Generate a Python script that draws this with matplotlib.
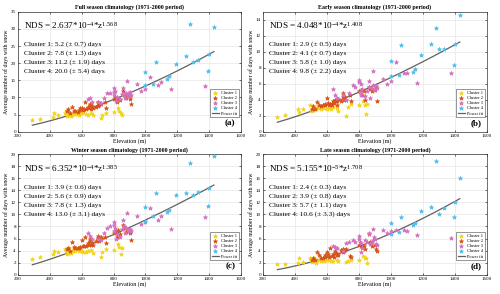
import numpy as np
import matplotlib
matplotlib.use("Agg")
import matplotlib.pyplot as plt

plt.rcParams['font.family'] = ['Liberation Serif', 'DejaVu Serif']
plt.rcParams['mathtext.fontset'] = 'custom'
plt.rcParams['mathtext.rm'] = 'Liberation Serif'
plt.rcParams['mathtext.it'] = 'Liberation Serif:italic'

# elevations of the stations in each cluster (m)
elev_c1 = [290, 340, 420, 425, 450, 495, 500, 505, 510, 515, 520, 530, 540, 550, 560, 565, 570,
           580, 590, 600, 610, 625, 640, 660, 670, 720, 730, 750, 800, 825, 835, 845, 850]
elev_c2 = [505, 515, 525, 540, 550, 560, 575, 585, 590, 600, 605, 615, 620, 630, 640, 645, 650,
           655, 660, 665, 670, 690, 700, 700, 705, 710, 720, 745, 750, 800, 810, 820, 830, 840,
           860, 870, 880, 900, 905, 910]
elev_c3 = [640, 650, 665, 700, 720, 740, 760, 775, 800, 800, 805, 810, 815, 820, 840, 850, 860,
           865, 870, 880, 885, 890, 895, 900, 905, 910, 950, 975, 1000, 1030, 1080, 1100, 1160, 1375]
elev_c4 = [1000, 1000, 1050, 1064, 1137, 1150, 1190, 1253, 1280, 1300, 1332, 1395, 1400, 1430]

# full season
full_c1 = [3.5, 3.8, 4.4, 5.5, 4.8, 5.5, 6.0, 4.7, 5.3, 4.9, 5.8, 4.6, 5.0, 5.6, 5.1, 5.8, 5.3,
           5.0, 5.6, 5.4, 5.8, 5.2, 5.0, 5.6, 4.9, 4.0, 4.8, 5.5, 5.7, 6.8, 6.0, 5.5, 4.9]
full_c2 = [5.9, 6.6, 5.5, 7.2, 6.0, 6.1, 5.8, 6.4, 6.9, 7.0, 6.2, 6.7, 8.8, 6.7, 7.2, 6.8, 7.8,
           8.0, 6.7, 7.4, 6.9, 7.3, 8.3, 7.6, 8.6, 7.9, 8.2, 8.8, 6.9, 9.5, 10.0, 8.6, 9.6, 9.2,
           12.0, 10.8, 9.8, 10.4, 9.4, 8.0]
full_c3 = [9.5, 9.8, 8.7, 8.8, 8.5, 9.7, 11.2, 11.3, 12.7, 11.6, 10.8, 11.9, 8.9, 10.0, 9.4, 11.0,
           12.8, 10.6, 9.9, 11.2, 14.8, 10.5, 11.4, 11.6, 10.3, 10.8, 13.9, 11.9, 12.5, 15.9, 13.6,
           14.4, 12.4, 13.2]
full_c4 = [17.3, 13.5, 14.0, 20.3, 15.4, 16.2, 19.9, 22.2, 31.3, 20.2, 21.0, 17.6, 22.7, 30.5]

# early season
early_c1 = [1.9, 2.1, 2.8, 2.5, 2.8, 3.3, 2.7, 2.6, 3.0, 2.7, 2.9, 2.8, 3.1, 3.0, 3.2, 2.9, 3.1,
            3.0, 3.3, 2.9, 3.0, 2.8, 3.1, 3.0, 2.6, 2.0, 3.1, 3.5, 3.3, 3.8, 3.3, 2.2, 3.5]
early_c2 = [2.9, 3.2, 2.8, 3.7, 3.3, 3.2, 3.3, 3.5, 3.4, 4.2, 3.6, 3.3, 3.5, 3.3, 3.9, 3.6, 4.0,
            3.9, 3.4, 3.8, 4.1, 3.9, 4.8, 4.3, 4.0, 4.4, 4.0, 4.6, 3.8, 5.1, 5.2, 4.6, 5.1, 4.0,
            5.6, 5.3, 5.1, 5.2, 5.6, 3.8]
early_c3 = [5.3, 4.6, 4.2, 4.6, 4.0, 4.9, 5.8, 5.6, 6.5, 6.2, 5.0, 6.0, 4.6, 5.3, 4.5, 5.1, 6.3,
            5.6, 4.2, 5.5, 7.6, 5.8, 5.2, 5.4, 5.9, 5.5, 6.6, 6.0, 6.4, 8.7, 7.4, 7.3, 6.1, 7.3]
early_c4 = [8.9, 7.0, 7.1, 10.8, 7.5, 7.9, 9.6, 11.0, 13.0, 10.3, 10.3, 8.4, 11.0, 14.6]

# winter season
winter_c1 = [2.6, 2.9, 3.4, 3.9, 3.7, 4.3, 4.0, 3.5, 4.2, 3.6, 4.4, 3.6, 3.9, 4.2, 4.0, 4.5, 4.2,
             3.9, 4.4, 3.9, 3.8, 3.7, 3.9, 4.1, 3.6, 2.9, 3.8, 4.3, 4.1, 5.1, 4.6, 3.5, 4.4]
winter_c2 = [4.3, 4.4, 4.0, 5.4, 4.6, 4.4, 4.5, 4.5, 4.6, 5.7, 4.7, 4.8, 6.3, 4.8, 5.2, 4.9, 5.6,
             5.9, 4.9, 5.3, 5.0, 5.6, 6.4, 5.9, 6.1, 5.6, 6.2, 6.2, 5.3, 6.9, 7.2, 6.3, 7.4, 6.8,
             8.2, 7.8, 7.1, 7.3, 7.0, 5.8]
winter_c3 = [7.0, 6.5, 6.0, 6.0, 5.8, 7.0, 7.8, 8.0, 8.7, 8.3, 7.3, 7.8, 6.0, 6.8, 6.2, 7.6, 9.1,
             8.1, 7.0, 7.8, 10.3, 7.6, 7.2, 7.6, 7.4, 7.3, 9.7, 8.4, 8.7, 11.1, 9.0, 9.8, 7.6, 9.5]
winter_c4 = [11.3, 8.9, 9.7, 13.5, 10.4, 10.8, 13.3, 13.5, 18.6, 13.2, 13.7, 11.4, 14.4, 19.7]

# late season
late_c1 = [1.7, 1.7, 2.0, 2.7, 2.1, 2.7, 2.4, 2.1, 2.6, 2.3, 2.7, 2.0, 2.4, 2.5, 2.2, 2.8, 2.4,
           2.3, 2.6, 2.4, 2.5, 2.3, 2.2, 2.5, 2.3, 2.1, 2.2, 2.5, 2.4, 3.1, 2.7, 2.7, 2.0]
late_c2 = [2.4, 2.7, 2.5, 3.8, 3.3, 2.8, 2.7, 3.0, 3.3, 3.7, 3.5, 2.9, 4.4, 3.1, 3.4, 3.0, 4.0,
           3.6, 3.2, 3.5, 3.3, 4.1, 4.2, 3.8, 3.9, 4.1, 4.2, 3.1, 3.0, 5.0, 4.8, 4.6, 4.7, 4.3,
           6.8, 5.4, 4.8, 5.0, 4.2, 3.9]
late_c3 = [4.7, 4.6, 4.4, 4.0, 5.3, 5.5, 5.8, 5.4, 6.5, 6.0, 5.5, 5.3, 3.8, 4.4, 5.8, 5.4, 6.9,
           6.7, 5.1, 5.4, 7.6, 5.8, 6.3, 5.9, 5.1, 5.0, 7.4, 6.9, 7.2, 7.4, 7.4, 7.3, 6.6, 6.1]
late_c4 = [8.6, 6.8, 7.1, 9.5, 8.3, 8.6, 10.6, 11.3, 18.9, 10.1, 11.1, 9.6, 12.0, 16.1]

titles = ["Full season climatology (1971-2000 period)",
          "Early season climatology (1971-2000 period)",
          "Winter season climatology (1971-2000 period)",
          "Late season climatology (1971-2000 period)"]
fit_a = [2.637e-4, 4.048e-4, 6.352e-4, 5.155e-5]
fit_b = [1.568, 1.408, 1.385, 1.708]
eq_text = [r"NDS = 2.637*10$^{-4}$*z$^{1.568}$",
           r"NDS = 4.048*10$^{-4}$*z$^{1.408}$",
           r"NDS = 6.352*10$^{-4}$*z$^{1.385}$",
           r"NDS = 5.155*10$^{-5}$*z$^{1.708}$"]
cluster_text = [["5.2 (± 0.7)", "7.8 (± 1.3)", "11.2 (± 1.9)", "20.0 (± 5.4)"],
                ["2.9 (± 0.5)", "4.1 (± 0.7)", "5.8 (± 1.0)", "9.8 (± 2.2)"],
                ["3.9 (± 0.6)", "5.6 (± 0.9)", "7.8 (± 1.3)", "13.0 (± 3.1)"],
                ["2.4 (± 0.3)", "3.9 (± 0.8)", "5.7 (± 1.1)", "10.6 (± 3.3)"]]
ymax = [35, 15, 20, 20]
ystep = [5, 2, 2, 2]
panel_labels = ["(a)", "(b)", "(c)", "(d)"]
seasons = [[full_c1, full_c2, full_c3, full_c4],
           [early_c1, early_c2, early_c3, early_c4],
           [winter_c1, winter_c2, winter_c3, winter_c4],
           [late_c1, late_c2, late_c3, late_c4]]
elevs = [elev_c1, elev_c2, elev_c3, elev_c4]
colors = ['#F2D31B', '#D95319', '#D470C0', '#4DBEEE']

fig = plt.figure(figsize=(5.0, 2.94), dpi=100)
boxes = [[0.036, 0.552, 0.446, 0.408],
         [0.526, 0.552, 0.448, 0.408],
         [0.036, 0.066, 0.446, 0.409],
         [0.526, 0.066, 0.448, 0.409]]

for i in range(4):
    ax = fig.add_axes(boxes[i])
    for k in range(4):
        ax.scatter(elevs[k], seasons[i][k], s=9, marker='*', color=colors[k],
                   linewidths=0.5, label="Cluster %d" % (k + 1), zorder=3)
    z = np.linspace(290, 1430, 100)
    ax.plot(z, fit_a[i] * z ** fit_b[i], color='#606060', lw=0.9, label="Power fit", zorder=2)
    ax.set_xlim(200, 1600)
    ax.set_ylim(0, ymax[i])
    ax.set_xticks(np.arange(200, 1601, 200))
    ax.set_yticks(np.arange(0, ymax[i] + 0.1, ystep[i]))
    ax.grid(True, color='#e6e6e6', lw=0.5)
    ax.set_axisbelow(True)
    ax.tick_params(labelsize=3.6, direction='in', length=1.5, width=0.4, pad=1.5,
                   top=True, right=True)
    for sp in ax.spines.values():
        sp.set_linewidth(0.5)
        sp.set_color('#333333')
    ax.set_title(titles[i], fontsize=4.3, fontweight='bold', pad=2)
    ax.set_xlabel("Elevation (m)", fontsize=4.3, labelpad=0.5)
    ax.set_ylabel("Average number of days with snow", fontsize=4.2, labelpad=1)
    ax.text(0.027, 0.885, eq_text[i], transform=ax.transAxes, fontsize=6.6, va='center')
    for k in range(4):
        ax.text(0.027, 0.73 - k * 0.075, "Cluster %d: %s days" % (k + 1, cluster_text[i][k]),
                transform=ax.transAxes, fontsize=5.3, va='center')
    ax.text(0.975, 0.04, panel_labels[i], transform=ax.transAxes, fontsize=6.5,
            fontweight='bold', ha='right', va='bottom')
    leg = ax.legend(loc='lower right', bbox_to_anchor=(1.0, 0.1), fontsize=3.2,
                    handlelength=1.6, borderpad=0.4, labelspacing=0.25, handletextpad=0.5,
                    fancybox=False, framealpha=1, edgecolor='#444444', markerscale=1.0)
    leg.get_frame().set_linewidth(0.4)

fig.savefig("out.png", dpi=100)
